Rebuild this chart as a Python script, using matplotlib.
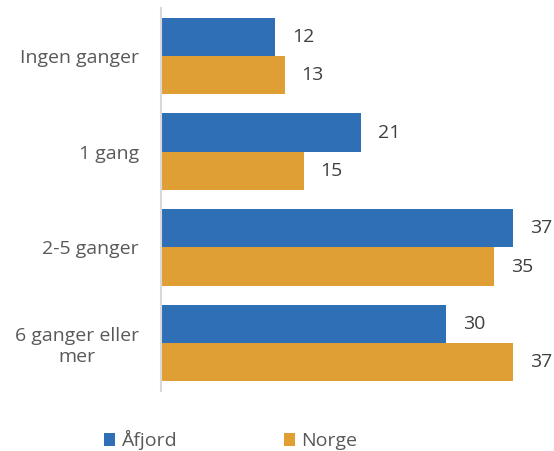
import matplotlib.pyplot as plt
import numpy as np

plt.rcParams['font.family'] = ['Open Sans', 'DejaVu Sans']

categories = ['Ingen ganger', '1 gang', '2-5 ganger', '6 ganger eller\nmer']
afjord = [12, 21, 37, 30]
norge = [13, 15, 35, 37]

blue = '#2e6fb5'
orange = '#e09f35'
txt = '#595959'
fs = 14

fig = plt.figure(figsize=(5.54, 4.51), dpi=100)
ax = fig.add_axes([0.2906, 0.133, 0.686, 0.849])

y = np.arange(len(categories))
h = 0.4
b1 = ax.barh(y - h / 2, afjord, height=h, color=blue, label='Åfjord')
b2 = ax.barh(y + h / 2, norge, height=h, color=orange, label='Norge')

for bars, vals in ((b1, afjord), (b2, norge)):
    for r, v in zip(bars, vals):
        ax.text(v + 1.8, r.get_y() + r.get_height() / 2, str(v),
                va='center', ha='left', fontsize=fs, color='#404040')

ax.set_xlim(0, 40)
ax.set_ylim(len(categories) - 0.5, -0.5)
ax.set_yticks(y)
ax.set_yticklabels(categories, fontsize=fs, color=txt, multialignment='center')
ax.tick_params(axis='y', length=0, pad=16)
ax.set_xticks([])
for s in ['top', 'right', 'bottom']:
    ax.spines[s].set_visible(False)
ax.spines['left'].set_color('#d9d9d9')
ax.spines['left'].set_linewidth(1.5)

leg = fig.legend(handles=[b1, b2], labels=['Åfjord', 'Norge'], loc='center',
                 bbox_to_anchor=(0.416, 0.024), ncol=2, frameon=False,
                 fontsize=fs, handlelength=0.6, handleheight=0.6,
                 handletextpad=0.3, columnspacing=5.5)
for t in leg.get_texts():
    t.set_color(txt)

fig.savefig('out.png', dpi=100)
